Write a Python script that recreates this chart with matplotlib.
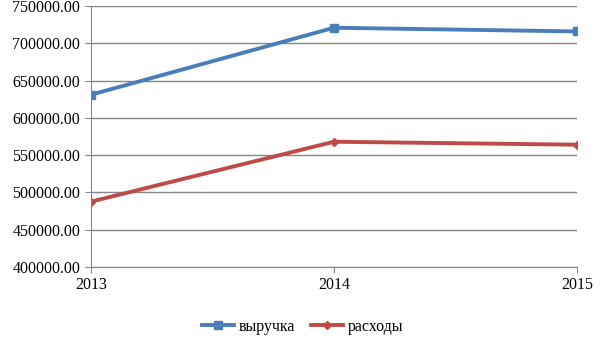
import matplotlib
matplotlib.use("Agg")
import matplotlib.pyplot as plt
from matplotlib.ticker import FuncFormatter

years = [2013, 2014, 2015]
revenue = [631000, 721000, 716000]
expenses = [487500, 568000, 564000]
series_names = ["выручка", "расходы"]

plt.rcParams['font.family'] = ['Liberation Serif', 'DejaVu Serif']

fig = plt.figure(figsize=(6.05, 3.4), dpi=100)
ax = fig.add_axes([0.150, 0.215, 0.804, 0.767])

ax.plot(years, revenue, color='#4a7ebb', lw=2.8, marker='s', ms=6, label=series_names[0])
ax.plot(years, expenses, color='#be4b48', lw=2.8, marker='D', ms=4.5, label=series_names[1])

ax.set_xlim(2013, 2015)
ax.set_ylim(400000, 750000)
ax.set_yticks(range(400000, 750001, 50000))
ax.yaxis.set_major_formatter(FuncFormatter(lambda v, p: f"{v:.2f}"))
ax.set_xticks(years)
ax.grid(axis='y', color='#868686', lw=1)
ax.set_axisbelow(True)
for s in ['top', 'right']:
    ax.spines[s].set_visible(False)
for s in ['left', 'bottom']:
    ax.spines[s].set_color('#868686')
ax.tick_params(colors='#868686', labelcolor='black', labelsize=11.5, length=4)
ax.tick_params(axis='x', pad=3)

fig.legend(loc='center', bbox_to_anchor=(0.5, 0.038), ncol=2, frameon=False,
           fontsize=11.5, handlelength=2.0, columnspacing=1.0, handletextpad=0.3,
           borderpad=0)

fig.savefig("out.png", dpi=100)
